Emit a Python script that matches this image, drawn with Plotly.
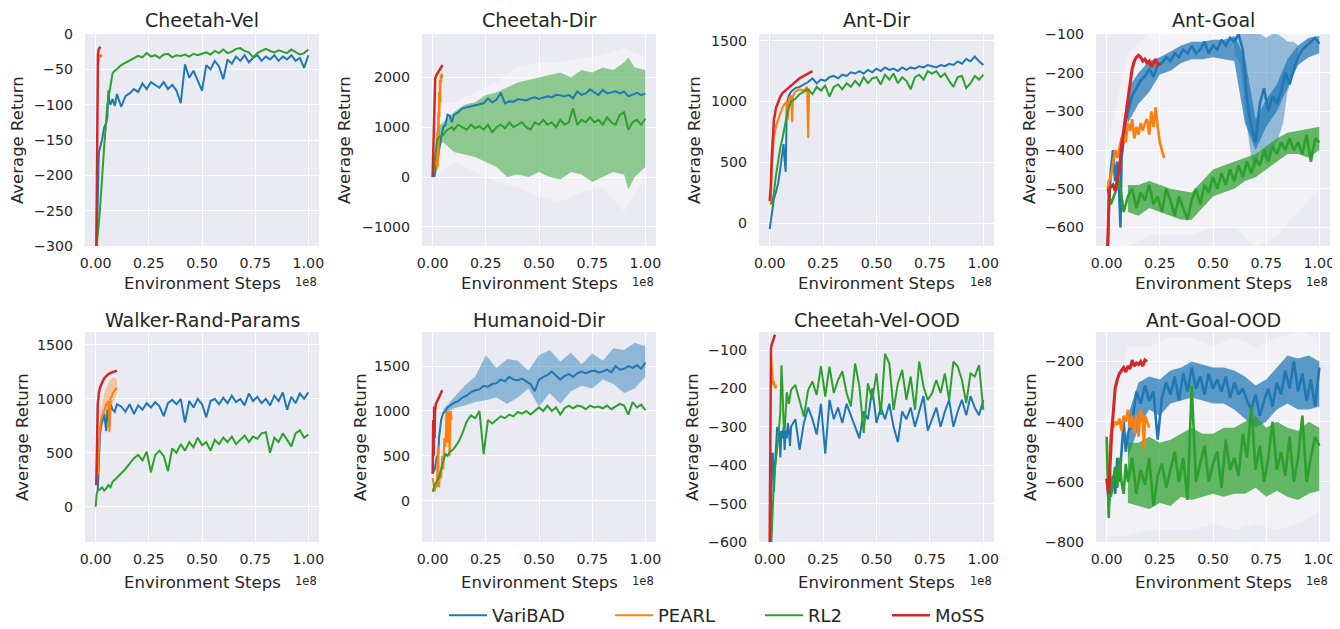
import plotly.graph_objects as go

# ---------------- shared step grid (units of 1e8 environment steps) ----------------
STEPS = [0.10, 0.12, 0.14, 0.16, 0.18, 0.20, 0.22, 0.24, 0.26, 0.28,
         0.30, 0.32, 0.34, 0.36, 0.38, 0.40, 0.42, 0.44, 0.46, 0.48,
         0.50, 0.52, 0.54, 0.56, 0.58, 0.60, 0.62, 0.64, 0.66, 0.68,
         0.70, 0.72, 0.74, 0.76, 0.78, 0.80, 0.82, 0.84, 0.86, 0.88,
         0.90, 0.92, 0.94, 0.96, 0.98, 1.00]
BAND_STEPS = [0.10, 0.15, 0.20, 0.25, 0.30, 0.35, 0.40, 0.45, 0.50, 0.55,
              0.60, 0.65, 0.70, 0.75, 0.80, 0.85, 0.90, 0.95, 1.00]

METHODS = ["VariBAD", "PEARL", "RL2", "MoSS"]
TITLES = ["Cheetah-Vel", "Cheetah-Dir", "Ant-Dir", "Ant-Goal",
          "Walker-Rand-Params", "Humanoid-Dir", "Cheetah-Vel-OOD", "Ant-Goal-OOD"]
X_TICKS = [0, 0.25, 0.5, 0.75, 1.0]
X_TICK_TEXT = ["0.00", "0.25", "0.50", "0.75", "1.00"]

# ---------------- Cheetah-Vel ----------------
cv_vb_hx = [0.005, 0.01, 0.015, 0.02, 0.03, 0.04, 0.05, 0.055, 0.06, 0.065, 0.07, 0.08, 0.09]
cv_vb_hy = [-300, -220, -168, -162, -150, -132, -126, -118, -80, -96, -100, -92, -102]
cv_vb_by = [-85, -103, -88, -84, -78, -82, -70, -78, -68, -72,
            -76, -68, -78, -72, -80, -98, -43, -62, -52, -66,
            -80, -44, -50, -38, -46, -64, -36, -42, -32, -38,
            -30, -40, -34, -30, -38, -32, -36, -30, -38, -32,
            -36, -30, -38, -34, -48, -30]
cv_rl_hx = [0.005, 0.02, 0.04, 0.055, 0.065, 0.08, 0.09]
cv_rl_hy = [-300, -250, -160, -100, -82, -55, -52]
cv_rl_by = [-50, -44, -41, -38, -35, -31, -33, -27, -32, -30,
            -34, -29, -28, -33, -30, -31, -29, -32, -28, -30,
            -28, -26, -29, -24, -27, -22, -27, -25, -21, -20,
            -24, -26, -33, -27, -24, -21, -24, -26, -23, -25,
            -27, -22, -26, -29, -27, -22]
cv_pe_x = [0.012, 0.015, 0.018, 0.021, 0.024, 0.027, 0.03]
cv_pe_y = [-42, -36, -30, -33, -29, -31, -30]
cv_mo_x = [0.003, 0.005, 0.007, 0.009, 0.011, 0.014, 0.018, 0.022]
cv_mo_y = [-300, -200, -110, -55, -30, -22, -19, -18]

# ---------------- Cheetah-Dir ----------------
cd_vb_hx = [0.008, 0.015, 0.02, 0.025, 0.03, 0.035, 0.04, 0.045, 0.05, 0.06, 0.07, 0.08, 0.09]
cd_vb_hy = [0, 150, 300, 400, 500, 650, 800, 900, 1000, 1050, 1250, 1230, 1100]
cd_vb_by = [1250, 1300, 1380, 1400, 1420, 1440, 1460, 1480, 1580, 1500,
            1550, 1690, 1480, 1520, 1510, 1560, 1550, 1540, 1580, 1600,
            1570, 1600, 1620, 1600, 1650, 1640, 1620, 1650, 1580, 1720,
            1650, 1680, 1760, 1700, 1650, 1750, 1680, 1700, 1720, 1680,
            1720, 1620, 1660, 1690, 1650, 1670]
cd_rl_hx = [0.0, 0.01, 0.02, 0.03, 0.05, 0.07, 0.09]
cd_rl_hy = [0, 300, 750, 800, 850, 950, 1000]
cd_rl_by = [950, 1050, 1000, 950, 1050, 980, 1020, 950, 1050, 900,
            1000, 1050, 980, 1100, 1000, 1050, 1100, 1000, 950, 1100,
            1050, 1150, 1050, 1100, 1000, 1150, 1050, 1100, 1380, 1050,
            1150, 1100, 1200, 1100, 1150, 1050, 1200, 1100, 1050, 1250,
            1300, 950, 1100, 1150, 1050, 1170]
cd_rl_band_x = [0.02, 0.05, 0.1, 0.15, 0.2, 0.25, 0.3, 0.35, 0.4, 0.45, 0.5,
                0.55, 0.6, 0.65, 0.7, 0.75, 0.8, 0.85, 0.9, 0.92, 0.95, 1.0]
cd_rl_band_hi = [1000, 1100, 1300, 1450, 1500, 1650, 1700, 1800, 1900, 1950, 2000,
                 2050, 2100, 2000, 2150, 2100, 2200, 2150, 2300, 2400, 2200, 2150]
cd_rl_band_lo = [600, 700, 500, 450, 400, 300, 200, 0, 50, 0, 100,
                 0, -50, 100, 50, -100, 0, 100, 50, -250, 0, 200]
cd_env_x = [0.02, 0.1, 0.2, 0.3, 0.4, 0.5, 0.6, 0.7, 0.8, 0.9, 1.0]
cd_env_hi = [1500, 1500, 1700, 1900, 2200, 2300, 2300, 2400, 2450, 2600, 2400]
cd_env_lo = [0, 300, 100, -100, -200, -400, -500, -300, -200, -700, 0]
cd_pe_x = [0.02, 0.022, 0.024, 0.026, 0.028, 0.03, 0.032, 0.034, 0.036, 0.038, 0.04, 0.042, 0.044, 0.046]
cd_pe_y = [150, 900, 200, 1300, 400, 1700, 1200, 1950, 1500, 2050, 1900, 2080, 2000, 2050]
cd_mo_x = [0.0, 0.003, 0.006, 0.009, 0.012, 0.018, 0.025, 0.032, 0.04, 0.047]
cd_mo_y = [0, 600, 1300, 1800, 1980, 2050, 2100, 2150, 2200, 2250]

# ---------------- Ant-Dir ----------------
ad_vb_hx = [0.0, 0.01, 0.02, 0.03, 0.04, 0.05, 0.06, 0.065, 0.07, 0.075, 0.08, 0.09]
ad_vb_hy = [-50, 100, 200, 260, 330, 450, 580, 650, 520, 420, 980, 1050]
ad_vb_by = [1080, 1110, 1120, 1140, 1160, 1190, 1150, 1180, 1170, 1200,
            1210, 1190, 1220, 1210, 1240, 1230, 1250, 1230, 1260, 1240,
            1270, 1250, 1280, 1260, 1270, 1250, 1280, 1260, 1280, 1270,
            1290, 1280, 1300, 1290, 1280, 1300, 1290, 1310, 1300, 1330,
            1310, 1350, 1330, 1370, 1330, 1300]
ad_rl_hx = [0.01, 0.02, 0.03, 0.04, 0.05, 0.06, 0.07, 0.08, 0.09]
ad_rl_hy = [150, 250, 400, 520, 620, 700, 800, 880, 950]
ad_rl_by = [1000, 1020, 1060, 1080, 1100, 1060, 1120, 1090, 1130, 1040,
            1120, 1140, 1100, 1150, 1120, 1170, 1130, 1200, 1150, 1190,
            1200, 1140, 1220, 1180, 1230, 1150, 1200, 1170, 1100, 1200,
            1220, 1180, 1250, 1230, 1250, 1200, 1230, 1170, 1120, 1200,
            1210, 1110, 1150, 1210, 1180, 1220]
ad_pe_x = [0.005, 0.01, 0.02, 0.03, 0.04, 0.05, 0.06, 0.07, 0.08, 0.085,
           0.09, 0.1, 0.105, 0.11, 0.12, 0.14, 0.16, 0.175, 0.18, 0.185]
ad_pe_y = [150, 450, 700, 800, 850, 900, 950, 980, 1000, 850,
           1020, 1050, 830, 1050, 1080, 1100, 1090, 1120, 700, 1100]
ad_mo_x = [0.0, 0.005, 0.01, 0.015, 0.02, 0.03, 0.04, 0.05, 0.06, 0.08,
           0.1, 0.12, 0.14, 0.16, 0.18, 0.2]
ad_mo_y = [180, 300, 550, 720, 850, 950, 1000, 1040, 1070, 1100,
           1130, 1160, 1190, 1210, 1230, 1250]

# ---------------- Ant-Goal ----------------
ag_vb_hx = [0.005, 0.01, 0.02, 0.03, 0.04, 0.05, 0.06, 0.065, 0.07, 0.08, 0.09]
ag_vb_hy = [-650, -560, -450, -400, -480, -430, -520, -600, -420, -370, -330]
ag_vb_by = [-300, -260, -240, -220, -210, -190, -210, -180, -175, -160,
            -170, -150, -160, -140, -150, -130, -150, -140, -120, -150,
            -130, -140, -115, -130, -110, -120, -100, -140, -270, -340,
            -380, -280, -240, -300, -260, -280, -250, -200, -230, -190,
            -160, -140, -130, -120, -110, -125]
ag_vb_noise_hi = [-240, -200, -170, -160, -145, -130, -120, -120, -115, -115,
                  -105, -160, -320, -270, -230, -165, -130, -110, -105]
ag_vb_noise_lo = [-330, -280, -250, -205, -195, -175, -165, -165, -160, -165,
                  -170, -330, -400, -340, -300, -240, -180, -160, -150]
ag_vb_band_x = [0.6, 0.63, 0.65, 0.68, 0.7, 0.72, 0.75, 0.78, 0.8, 0.83, 0.85, 0.88, 0.9]
ag_vb_band_hi = [-110, -100, -100, -100, -100, -100, -110, -100, -100, -110, -120, -120, -130]
ag_vb_band_lo = [-150, -180, -300, -420, -450, -400, -430, -400, -380, -330, -250, -200, -170]
ag_rl_hx = [0.005, 0.02, 0.04, 0.06, 0.08]
ag_rl_hy = [-500, -540, -510, -480, -560]
ag_rl_by = [-520, -500, -550, -510, -530, -490, -540, -520, -560, -500,
            -530, -570, -520, -550, -580, -530, -500, -540, -490, -510,
            -470, -500, -460, -490, -450, -480, -440, -470, -430, -460,
            -420, -440, -400, -430, -390, -410, -380, -400, -370, -400,
            -380, -410, -360, -430, -370, -380]
ag_rl_noise_hi = [-490, -490, -480, -490, -500, -505, -510, -480, -450, -440,
                  -430, -420, -410, -390, -370, -355, -350, -345, -340]
ag_rl_noise_lo = [-560, -570, -550, -560, -570, -580, -580, -550, -520, -510,
                  -500, -480, -470, -450, -430, -410, -410, -420, -400]
ag_env_x = [0.0, 0.1, 0.2, 0.3, 0.4, 0.5, 0.6, 0.7, 0.8, 0.9, 1.0]
ag_env_hi = [-400, -150, -100, -100, -100, -100, -100, -100, -100, -100, -100]
ag_env_lo = [-650, -650, -620, -620, -620, -600, -600, -650, -620, -560, -500]
ag_pe_x = [0.005, 0.01, 0.02, 0.03, 0.04, 0.05, 0.06, 0.07, 0.08, 0.09, 0.1, 0.11, 0.12, 0.13,
           0.14, 0.15, 0.16, 0.17, 0.18, 0.19, 0.2, 0.21, 0.22, 0.23, 0.24, 0.25, 0.26, 0.27]
ag_pe_y = [-500, -480, -470, -430, -400, -420, -390, -370, -360, -380, -330, -350, -320, -370,
           -340, -360, -330, -350, -330, -320, -360, -300, -340, -290, -340, -380, -400, -420]
ag_mo_x = [0.005, 0.008, 0.012, 0.02, 0.03, 0.04, 0.05, 0.06, 0.07, 0.08, 0.09, 0.1, 0.11, 0.12,
           0.13, 0.14, 0.15, 0.16, 0.17, 0.18, 0.19, 0.2, 0.21, 0.22, 0.23, 0.24, 0.25]
ag_mo_y = [-650, -520, -500, -495, -490, -505, -480, -450, -390, -350, -300, -270, -230, -190,
           -170, -160, -155, -160, -170, -165, -175, -170, -185, -175, -165, -180, -175]

# ---------------- Walker-Rand-Params ----------------
wr_vb_hx = [0.01, 0.015, 0.02, 0.025, 0.03, 0.035, 0.04, 0.045, 0.05, 0.055, 0.06, 0.065, 0.07, 0.08, 0.09]
wr_vb_hy = [150, 450, 650, 750, 800, 820, 860, 780, 700, 900, 850, 740, 950, 900, 880]
wr_vb_by = [950, 930, 880, 950, 860, 940, 900, 960, 920, 970,
            930, 840, 960, 990, 950, 1000, 780, 980, 920, 1000,
            950, 830, 980, 1000, 950, 1010, 960, 1030, 970, 1000,
            940, 1050, 980, 1020, 960, 1000, 940, 1030, 980, 1060,
            900, 1020, 960, 1050, 1000, 1060]
wr_rl_hx = [0.0, 0.005, 0.01, 0.02, 0.03, 0.04, 0.05, 0.06, 0.07, 0.08, 0.09]
wr_rl_hy = [0, 120, 150, 160, 180, 150, 170, 200, 180, 230, 250]
wr_rl_by = [270, 310, 350, 400, 450, 480, 430, 510, 320, 480,
            520, 470, 330, 540, 500, 580, 520, 600, 550, 640,
            570, 600, 520, 620, 580, 640, 600, 650, 580, 620,
            660, 600, 650, 630, 680, 690, 500, 640, 600, 680,
            620, 560, 680, 710, 640, 670]
wr_pe_x = [0.01, 0.015, 0.02, 0.025, 0.03, 0.035, 0.04, 0.045, 0.05, 0.055,
           0.06, 0.065, 0.07, 0.075, 0.08, 0.09, 0.1]
wr_pe_y = [300, 600, 720, 800, 830, 870, 900, 930, 950, 960,
           980, 690, 1000, 1020, 1050, 1080, 1100]
wr_pe_band_x = [0.02, 0.04, 0.06, 0.08, 0.1]
wr_pe_band_hi = [850, 1050, 1150, 1200, 1180]
wr_pe_band_lo = [650, 800, 850, 950, 1050]
wr_mo_x = [0.003, 0.006, 0.01, 0.015, 0.02, 0.03, 0.04, 0.05, 0.06, 0.07, 0.08, 0.09, 0.1]
wr_mo_y = [200, 600, 950, 1050, 1100, 1150, 1190, 1210, 1230, 1240, 1250, 1255, 1260]

# ---------------- Humanoid-Dir ----------------
hd_vb_hx = [0.0, 0.01, 0.02, 0.025, 0.03, 0.04, 0.05, 0.06, 0.07, 0.08, 0.09]
hd_vb_hy = [300, 350, 500, 420, 700, 900, 980, 1000, 1040, 1060, 1080]
hd_vb_by = [1090, 1110, 1150, 1170, 1210, 1230, 1240, 1280, 1270, 1300,
            1310, 1350, 1330, 1380, 1350, 1340, 1360, 1330, 1300, 1220,
            1350, 1380, 1400, 1440, 1400, 1350, 1390, 1410, 1380, 1420,
            1440, 1420, 1440, 1450, 1430, 1440, 1460, 1430, 1500, 1460,
            1470, 1500, 1480, 1510, 1470, 1540]
hd_vb_band_x = [0.05, 0.1, 0.15, 0.2, 0.25, 0.3, 0.35, 0.4, 0.45, 0.5,
                0.55, 0.6, 0.65, 0.7, 0.75, 0.8, 0.85, 0.9, 0.95, 1.0]
hd_vb_band_hi = [1020, 1150, 1280, 1380, 1620, 1480, 1580, 1560, 1450, 1620,
                 1680, 1550, 1650, 1520, 1640, 1560, 1700, 1680, 1760, 1720]
hd_vb_band_lo = [960, 1030, 1060, 1100, 1120, 1150, 1080, 1150, 1250, 1050,
                 1200, 1080, 1220, 1280, 1250, 1350, 1300, 1200, 1250, 1380]
hd_rl_hx = [0.0, 0.01, 0.02, 0.03, 0.04, 0.05, 0.06, 0.07, 0.08, 0.09]
hd_rl_hy = [100, 180, 220, 260, 350, 450, 520, 500, 540, 560]
hd_rl_by = [580, 650, 750, 880, 950, 920, 1000, 520, 900, 860,
            900, 940, 920, 960, 940, 990, 970, 1000, 960, 1000,
            1040, 1000, 1060, 1000, 1040, 960, 1030, 1060, 1030, 1060,
            1050, 1020, 1060, 1040, 1050, 1030, 1060, 1020, 1050, 1080,
            1060, 960, 1100, 1040, 1070, 1010]
hd_pe_x = [0.0, 0.005, 0.01, 0.015, 0.02, 0.025, 0.03, 0.035, 0.04, 0.045,
           0.05, 0.055, 0.06, 0.065, 0.07, 0.075, 0.08, 0.085, 0.09]
hd_pe_y = [250, 180, 100, 200, 150, 600, 150, 300, 250, 500,
           350, 700, 600, 1000, 650, 1000, 500, 1000, 900]
hd_mo_x = [0.0, 0.003, 0.005, 0.007, 0.009, 0.011, 0.015, 0.02, 0.025, 0.03, 0.035, 0.04, 0.045]
hd_mo_y = [300, 900, 500, 1050, 700, 1000, 1080, 1100, 1130, 1150, 1180, 1210, 1230]

# ---------------- Cheetah-Vel-OOD ----------------
co_vb_hx = [0.004, 0.01, 0.015, 0.02, 0.025, 0.03, 0.035, 0.04, 0.045, 0.05,
            0.055, 0.06, 0.065, 0.07, 0.075, 0.08, 0.085, 0.09, 0.095]
co_vb_hy = [-600, -370, -370, -470, -400, -330, -300, -320, -310, -380,
            -310, -330, -300, -360, -310, -330, -290, -310, -350]
co_vb_by = [-300, -280, -360, -290, -250, -280, -320, -240, -370, -230,
            -280, -250, -290, -240, -270, -300, -330, -260, -280, -200,
            -290, -250, -280, -240, -300, -340, -260, -280, -250, -300,
            -260, -220, -310, -280, -250, -300, -260, -230, -300, -260,
            -230, -270, -220, -250, -270, -230]
co_rl_hx = [0.008, 0.015, 0.02, 0.03, 0.04, 0.05, 0.055, 0.06, 0.065, 0.07, 0.075, 0.08, 0.09]
co_rl_hy = [-600, -500, -440, -380, -330, -260, -140, -200, -290, -310, -250, -210, -240]
co_rl_by = [-204, -191, -230, -273, -204, -182, -217, -142, -221, -143,
            -212, -178, -156, -212, -247, -135, -195, -316, -187, -230,
            -161, -269, -110, -135, -256, -187, -152, -230, -169, -256,
            -130, -195, -230, -212, -178, -212, -161, -230, -130, -143,
            -178, -238, -161, -169, -139, -256]
co_pe_x = [0.005, 0.008, 0.012, 0.016, 0.02, 0.024, 0.028, 0.03]
co_pe_y = [-100, -120, -160, -190, -180, -200, -190, -200]
co_mo_x = [0.0, 0.002, 0.004, 0.006, 0.01, 0.015, 0.02, 0.025]
co_mo_y = [-600, -300, -110, -95, -85, -75, -65, -60]

# ---------------- Ant-Goal-OOD ----------------
ao_vb_hx = [0.005, 0.01, 0.02, 0.03, 0.04, 0.05, 0.06, 0.07, 0.08, 0.09]
ao_vb_hy = [-620, -680, -620, -580, -640, -520, -600, -480, -400, -500]
ao_vb_by = [-440, -400, -300, -340, -280, -330, -300, -460, -320, -270,
            -310, -250, -330, -240, -300, -220, -290, -250, -310, -240,
            -290, -260, -300, -250, -320, -270, -310, -290, -330, -360,
            -310, -380, -330, -290, -350, -270, -310, -230, -290, -200,
            -300, -240, -330, -260, -350, -220]
ao_vb_noise_hi = [-380, -270, -250, -260, -230, -220, -200, -210, -220, -220,
                  -230, -250, -280, -260, -220, -180, -190, -180, -200]
ao_vb_noise_lo = [-520, -420, -360, -380, -340, -330, -320, -330, -340, -340,
                  -360, -390, -420, -400, -360, -340, -360, -360, -350]
ao_rl_hx = [0.0, 0.005, 0.01, 0.015, 0.02, 0.03, 0.04, 0.05, 0.06, 0.07, 0.08, 0.09]
ao_rl_hy = [-450, -600, -720, -560, -650, -600, -550, -620, -520, -600, -640, -540]
ao_rl_by = [-600, -520, -640, -560, -610, -520, -680, -580, -540, -620,
            -560, -500, -600, -520, -660, -280, -600, -540, -480, -600,
            -540, -500, -620, -460, -560, -520, -580, -440, -520, -350,
            -560, -480, -600, -520, -400, -560, -500, -580, -450, -600,
            -520, -380, -600, -520, -450, -480]
ao_rl_noise_hi = [-470, -470, -450, -470, -460, -440, -420, -440, -440, -420,
                  -420, -400, -380, -420, -400, -420, -430, -400, -420]
ao_rl_noise_lo = [-670, -680, -690, -670, -680, -650, -660, -650, -640, -650,
                  -640, -640, -620, -650, -630, -650, -660, -640, -630]
ao_env_x = [0.0, 0.1, 0.2, 0.3, 0.4, 0.5, 0.6, 0.7, 0.8, 0.9, 1.0]
ao_env_hi = [-400, -150, -150, -120, -120, -150, -120, -150, -120, -100, -120]
ao_env_lo = [-780, -780, -760, -760, -760, -740, -760, -740, -760, -740, -700]
ao_pe_x = [0.005, 0.01, 0.015, 0.02, 0.03, 0.04, 0.05, 0.06, 0.07, 0.08, 0.09, 0.1,
           0.11, 0.12, 0.13, 0.14, 0.15, 0.16, 0.17, 0.175, 0.18, 0.19, 0.2]
ao_pe_y = [-600, -620, -500, -440, -420, -400, -410, -390, -430, -380, -400, -360,
           -420, -380, -440, -370, -450, -360, -390, -490, -380, -400, -420]
ao_mo_x = [0.0, 0.005, 0.01, 0.015, 0.02, 0.025, 0.03, 0.035, 0.04, 0.05, 0.06, 0.07,
           0.08, 0.09, 0.1, 0.11, 0.12, 0.13, 0.14, 0.15, 0.16, 0.17, 0.18, 0.19]
ao_mo_y = [-590, -620, -640, -560, -480, -420, -380, -330, -290, -260, -240, -230,
           -220, -235, -215, -225, -195, -215, -205, -210, -200, -215, -195, -200]

# ---------------- y axes per panel ----------------
Y_RANGES = [[-300, 0], [-1386, 2873], [-189, 1555], [-648, -100],
            [-327, 1620], [-460, 1880], [-600, -53], [-800, -102]]
Y_TICKS = [[-300, -250, -200, -150, -100, -50, 0],
           [-1000, 0, 1000, 2000],
           [0, 500, 1000, 1500],
           [-600, -500, -400, -300, -200, -100],
           [0, 500, 1000, 1500],
           [0, 500, 1000, 1500],
           [-600, -500, -400, -300, -200, -100],
           [-800, -600, -400, -200]]

# ---------------- styling / page geometry (window pixels) ----------------
COLORS = {"VariBAD": "#1f77b4", "PEARL": "#ff7f0e", "RL2": "#2ca02c", "MoSS": "#d62728"}
BAND = {"VariBAD": "rgba(31,119,180,0.45)", "PEARL": "rgba(255,127,14,0.35)",
        "RL2": "rgba(44,160,44,0.5)"}
NOISE = {"VariBAD": "rgba(31,119,180,0.72)", "RL2": "rgba(44,160,44,0.72)"}
ENV = "rgba(255,255,255,0.35)"
TXT = "#262626"
FONT = "DejaVu Sans"
OFF = 8                       # page body margin of the browser
W, H = 1340 - OFF, 629 - OFF  # figure size so that it fits the window
COL_PX = [(85, 319), (422, 656), (759, 994), (1096, 1330)]
ROW_PX = [(34, 246), (332, 542)]
YLABEL_PX = [[18, 345, 695, 1030], [22, 360, 692, 1030]]
XLABEL_PY = [283, 582]
TITLE_PY = [20, 320]
LEGEND_X_PX = 444
LEGEND_WIDTHS = {"VariBAD": 113, "PEARL": 97, "RL2": 74, "MoSS": 60}


def px_x(px):
    return (px - OFF) / W


def px_y(py):
    return 1 - (py - OFF) / H


X_DOMAINS = [[px_x(a), px_x(b)] for a, b in COL_PX]
Y_DOMAINS = [[px_y(b), px_y(a)] for a, b in ROW_PX]

fig = go.Figure()


def ax_ids(i):
    return ("x" if i == 0 else "x%d" % (i + 1), "y" if i == 0 else "y%d" % (i + 1))


def add_line(i, x, y, method, width=1.8):
    xa, ya = ax_ids(i)
    fig.add_trace(go.Scatter(
        x=x, y=y, mode="lines", name=method, legendgroup=method,
        showlegend=(i == 0), legendwidth=LEGEND_WIDTHS[method], xaxis=xa, yaxis=ya,
        line=dict(color=COLORS[method], width=width), hoverinfo="skip"))


def add_band(i, x, hi, lo, color):
    xa, ya = ax_ids(i)
    fig.add_trace(go.Scatter(
        x=list(x) + list(x)[::-1], y=list(hi) + list(lo)[::-1], mode="lines",
        fill="toself", fillcolor=color, line=dict(width=0), showlegend=False,
        xaxis=xa, yaxis=ya, hoverinfo="skip"))


panels = [
    dict(vb=(cv_vb_hx, cv_vb_hy, cv_vb_by), rl=(cv_rl_hx, cv_rl_hy, cv_rl_by),
         pe=(cv_pe_x, cv_pe_y), mo=(cv_mo_x, cv_mo_y)),
    dict(vb=(cd_vb_hx, cd_vb_hy, cd_vb_by), rl=(cd_rl_hx, cd_rl_hy, cd_rl_by),
         pe=(cd_pe_x, cd_pe_y), mo=(cd_mo_x, cd_mo_y)),
    dict(vb=(ad_vb_hx, ad_vb_hy, ad_vb_by), rl=(ad_rl_hx, ad_rl_hy, ad_rl_by),
         pe=(ad_pe_x, ad_pe_y), mo=(ad_mo_x, ad_mo_y)),
    dict(vb=(ag_vb_hx, ag_vb_hy, ag_vb_by), rl=(ag_rl_hx, ag_rl_hy, ag_rl_by),
         pe=(ag_pe_x, ag_pe_y), mo=(ag_mo_x, ag_mo_y)),
    dict(vb=(wr_vb_hx, wr_vb_hy, wr_vb_by), rl=(wr_rl_hx, wr_rl_hy, wr_rl_by),
         pe=(wr_pe_x, wr_pe_y), mo=(wr_mo_x, wr_mo_y)),
    dict(vb=(hd_vb_hx, hd_vb_hy, hd_vb_by), rl=(hd_rl_hx, hd_rl_hy, hd_rl_by),
         pe=(hd_pe_x, hd_pe_y), mo=(hd_mo_x, hd_mo_y)),
    dict(vb=(co_vb_hx, co_vb_hy, co_vb_by), rl=(co_rl_hx, co_rl_hy, co_rl_by),
         pe=(co_pe_x, co_pe_y), mo=(co_mo_x, co_mo_y)),
    dict(vb=(ao_vb_hx, ao_vb_hy, ao_vb_by), rl=(ao_rl_hx, ao_rl_hy, ao_rl_by),
         pe=(ao_pe_x, ao_pe_y), mo=(ao_mo_x, ao_mo_y)),
]

# shaded regions first (drawn underneath the lines)
add_band(1, cd_env_x, cd_env_hi, cd_env_lo, ENV)
add_band(3, ag_env_x, ag_env_hi, ag_env_lo, ENV)
add_band(7, ao_env_x, ao_env_hi, ao_env_lo, ENV)
add_band(1, cd_rl_band_x, cd_rl_band_hi, cd_rl_band_lo, BAND["RL2"])
add_band(3, ag_vb_band_x, ag_vb_band_hi, ag_vb_band_lo, BAND["VariBAD"])
add_band(4, wr_pe_band_x, wr_pe_band_hi, wr_pe_band_lo, BAND["PEARL"])
add_band(5, hd_vb_band_x, hd_vb_band_hi, hd_vb_band_lo, BAND["VariBAD"])
add_band(3, BAND_STEPS, ag_vb_noise_hi, ag_vb_noise_lo, NOISE["VariBAD"])
add_band(3, BAND_STEPS, ag_rl_noise_hi, ag_rl_noise_lo, NOISE["RL2"])
add_band(7, BAND_STEPS, ao_vb_noise_hi, ao_vb_noise_lo, NOISE["VariBAD"])
add_band(7, BAND_STEPS, ao_rl_noise_hi, ao_rl_noise_lo, NOISE["RL2"])

thick = {3: 2.6, 7: 2.6}
for i, p in enumerate(panels):
    w = thick.get(i, 2.0)
    hx, hy, by = p["vb"]
    add_line(i, hx + STEPS, hy + by, "VariBAD", w)
    add_line(i, p["pe"][0], p["pe"][1], "PEARL", w)
    hx, hy, by = p["rl"]
    add_line(i, hx + STEPS, hy + by, "RL2", w)
    add_line(i, p["mo"][0], p["mo"][1], "MoSS", w + 0.5)

layout = dict(
    width=W, height=H, margin=dict(l=0, r=0, t=0, b=0, autoexpand=False),
    paper_bgcolor="white", plot_bgcolor="#EAEAF2",
    font=dict(family=FONT, color=TXT, size=14),
    legend=dict(orientation="h", x=px_x(LEGEND_X_PX), xanchor="left",
                y=-5 / H, yanchor="bottom", itemwidth=38,
                font=dict(size=18, family=FONT, color=TXT), bgcolor="rgba(0,0,0,0)",
                traceorder="normal"),
    annotations=[],
)

for i in range(8):
    r, c = divmod(i, 4)
    xa, ya = ax_ids(i)
    xkey = "xaxis" if i == 0 else "xaxis%d" % (i + 1)
    ykey = "yaxis" if i == 0 else "yaxis%d" % (i + 1)
    layout[xkey] = dict(
        domain=X_DOMAINS[c], anchor=ya, range=[-0.05, 1.05], automargin=False,
        tickvals=X_TICKS, ticktext=X_TICK_TEXT, ticks="", showline=False,
        showgrid=True, gridcolor="white", gridwidth=1, zeroline=False,
        tickfont=dict(size=14.2, color=TXT, family=FONT), ticklabelstandoff=7)
    layout[ykey] = dict(
        domain=Y_DOMAINS[r], anchor=xa, range=Y_RANGES[i], automargin=False,
        tickvals=Y_TICKS[i], ticktext=[("\u2212%d" % -v) if v < 0 else str(v) for v in Y_TICKS[i]],
        ticks="", showline=False, showgrid=True, gridcolor="white", gridwidth=1, zeroline=False,
        tickfont=dict(size=14.2, color=TXT, family=FONT), ticklabelstandoff=11)
    layout["annotations"].append(dict(
        text=TITLES[i], xref=xa + " domain", yref="paper", x=0.5, y=px_y(TITLE_PY[r]),
        xanchor="center", yanchor="middle", showarrow=False,
        font=dict(size=19, color=TXT, family=FONT)))
    layout["annotations"].append(dict(
        text="Environment Steps", xref=xa + " domain", yref="paper", x=0.5, y=px_y(XLABEL_PY[r]),
        xanchor="center", yanchor="middle", showarrow=False,
        font=dict(size=16.5, color=TXT, family=FONT)))
    layout["annotations"].append(dict(
        text="Average Return", xref="paper", yref=ya + " domain", x=px_x(YLABEL_PX[r][c]), y=0.5,
        xanchor="center", yanchor="middle", textangle=-90, showarrow=False,
        font=dict(size=16.5, color=TXT, family=FONT)))
    layout["annotations"].append(dict(
        text="1e8", xref=xa + " domain", yref="paper", x=1.0, y=px_y(XLABEL_PY[r] - 1),
        xanchor="right", yanchor="middle", showarrow=False,
        font=dict(size=11.5, color=TXT, family=FONT)))

fig.update_layout(**layout)
fig.write_html("out.html")
